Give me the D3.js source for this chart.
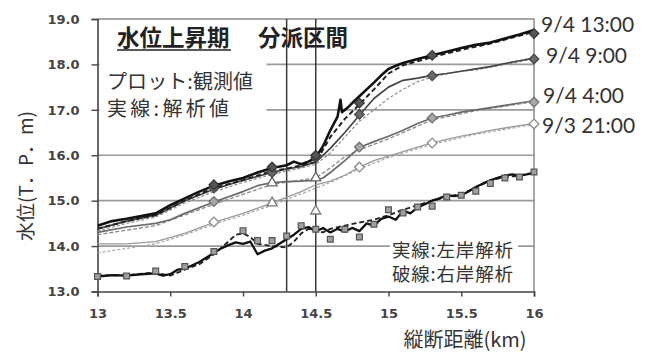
<!DOCTYPE html>
<html>
<head>
<meta charset="utf-8">
<script src="https://cdn.jsdelivr.net/npm/d3@7"></script>
<style>
  html, body { margin: 0; padding: 0; background: #fff; }
  svg { display: block; }
</style>
</head>
<body>
<svg id="chart" width="649" height="352"></svg>
<script>
// ---- axis ticks ----
const xTicks = [13, 13.5, 14, 14.5, 15, 15.5, 16];
const yTicks = [13, 14, 15, 16, 17, 18, 19];
const yGrid = [14, 15, 16, 17, 18];
const branchKm = [14.3, 14.5];

// ---- analysed water surface profiles [km, T.P.m] (L = left bank, R = right bank) ----
const prof1300L = [[13.0,14.45],[13.1,14.55],[13.2,14.6],[13.3,14.66],[13.4,14.72],[13.5,14.9],[13.6,15.05],[13.7,15.2],[13.8,15.33],[13.9,15.42],[14.0,15.5],[14.1,15.62],[14.2,15.72],[14.3,15.78],[14.35,15.86],[14.4,15.8],[14.45,15.86],[14.5,15.95],[14.55,16.2],[14.6,16.55],[14.65,16.85],[14.67,17.22],[14.68,16.95],[14.72,17.05],[14.76,17.18],[14.8,17.3],[14.85,17.45],[14.9,17.6],[14.95,17.76],[15.0,17.9],[15.05,17.97],[15.1,18.03],[15.2,18.12],[15.3,18.2],[15.4,18.28],[15.5,18.36],[15.6,18.43],[15.7,18.48],[15.8,18.57],[15.9,18.66],[16.0,18.76]];
const prof1300R = [[13.0,14.38],[13.2,14.55],[13.4,14.68],[13.6,15.0],[13.8,15.28],[14.0,15.45],[14.2,15.66],[14.3,15.7],[14.4,15.78],[14.5,15.85],[14.6,16.4],[14.7,16.8],[14.8,17.12],[14.9,17.45],[15.0,17.8],[15.1,17.98],[15.3,18.16],[15.5,18.32],[15.7,18.46],[16.0,18.72]];
const prof0900L = [[13.0,14.38],[13.2,14.55],[13.4,14.68],[13.6,15.0],[13.8,15.25],[14.0,15.45],[14.2,15.62],[14.3,15.7],[14.4,15.75],[14.5,15.85],[14.6,16.15],[14.7,16.5],[14.8,16.88],[14.9,17.25],[15.0,17.5],[15.1,17.65],[15.2,17.7],[15.3,17.76],[15.4,17.8],[15.5,17.85],[15.6,17.9],[15.7,17.95],[15.8,18.02],[15.9,18.08],[16.0,18.14]];
const prof0900R = [[13.0,14.33],[13.2,14.5],[13.4,14.64],[13.6,14.95],[13.8,15.2],[14.0,15.4],[14.2,15.58],[14.4,15.72],[14.5,15.8],[14.6,16.05],[14.7,16.4],[14.8,16.75],[14.9,17.0],[15.0,17.25],[15.1,17.45],[15.2,17.62],[15.3,17.72],[15.45,17.83],[15.6,17.88],[15.8,18.0],[16.0,18.12]];
const prof0400L = [[13.0,14.3],[13.2,14.42],[13.4,14.5],[13.5,14.58],[13.6,14.72],[13.8,14.97],[14.0,15.2],[14.1,15.33],[14.2,15.4],[14.3,15.42],[14.4,15.43],[14.5,15.45],[14.55,15.5],[14.6,15.62],[14.7,15.88],[14.8,16.17],[14.9,16.3],[15.0,16.42],[15.1,16.55],[15.2,16.7],[15.3,16.82],[15.4,16.88],[15.5,16.95],[15.6,17.0],[15.7,17.05],[15.8,17.1],[15.9,17.15],[16.0,17.2]];
const prof0400R = [[13.0,14.25],[13.4,14.45],[13.8,14.92],[14.2,15.36],[14.5,15.5],[14.6,15.72],[14.7,15.97],[14.8,16.12],[15.0,16.36],[15.3,16.78],[15.6,16.98],[16.0,17.18]];
const prof2100L = [[13.0,14.05],[13.2,14.05],[13.4,14.1],[13.6,14.28],[13.8,14.52],[14.0,14.72],[14.2,14.95],[14.4,15.2],[14.5,15.35],[14.6,15.43],[14.7,15.56],[14.8,15.74],[14.9,15.88],[15.0,15.98],[15.1,16.08],[15.2,16.18],[15.3,16.27],[15.4,16.35],[15.5,16.42],[15.6,16.48],[15.7,16.55],[15.8,16.6],[15.9,16.65],[16.0,16.7]];
const prof2100R = [[13.0,13.85],[13.2,13.95],[13.4,14.05],[13.6,14.25],[13.8,14.48],[14.0,14.68],[14.2,14.9],[14.4,15.15],[14.6,15.4],[14.8,15.7],[15.0,15.95],[15.3,16.24],[15.6,16.46],[16.0,16.68]];
const profLowL = [[13.0,13.33],[13.1,13.36],[13.2,13.35],[13.3,13.38],[13.4,13.4],[13.45,13.35],[13.5,13.38],[13.55,13.48],[13.6,13.5],[13.7,13.65],[13.8,13.85],[13.85,13.95],[13.9,14.02],[13.95,14.08],[14.0,14.05],[14.05,14.1],[14.1,13.82],[14.15,13.9],[14.2,13.95],[14.25,14.05],[14.3,14.15],[14.35,14.25],[14.4,14.38],[14.45,14.42],[14.5,14.32],[14.55,14.4],[14.6,14.3],[14.65,14.38],[14.7,14.32],[14.75,14.4],[14.8,14.33],[14.85,14.5],[14.9,14.45],[14.95,14.6],[15.0,14.65],[15.05,14.58],[15.1,14.78],[15.15,14.72],[15.2,14.85],[15.25,14.92],[15.3,15.0],[15.35,15.05],[15.4,15.12],[15.45,15.1],[15.5,15.12],[15.55,15.2],[15.6,15.3],[15.65,15.38],[15.7,15.45],[15.75,15.5],[15.8,15.55],[15.85,15.58],[15.9,15.55],[15.95,15.58],[16.0,15.62]];
const profLowR = [[13.0,13.35],[13.2,13.36],[13.4,13.42],[13.45,13.38],[13.5,13.35],[13.6,13.48],[13.7,13.6],[13.8,13.82],[13.9,14.1],[13.95,14.25],[14.0,14.28],[14.05,14.2],[14.1,14.05],[14.2,14.0],[14.3,13.97],[14.35,14.1],[14.4,14.28],[14.45,14.38],[14.5,14.35],[14.55,14.3],[14.6,14.38],[14.7,14.45],[14.8,14.52],[14.9,14.58],[15.0,14.68],[15.1,14.8],[15.2,14.9],[15.3,15.0],[15.4,15.08],[15.5,15.15],[15.6,15.28],[15.7,15.45],[15.8,15.52],[15.9,15.55],[16.0,15.6]];

// ---- observed water levels ----
const obsKm = [13.8, 14.2, 14.5, 14.8, 15.3, 16.0];
const obs1300 = [15.35, 15.74, 16.0, 17.15, 18.2, 18.68];
const obs0900 = [15.28, 15.62, 15.95, 16.9, 17.75, 18.12];
const obsKmB = [13.8, 14.8, 15.3, 16.0];
const obs0400 = [14.98, 16.18, 16.82, 17.17];
const obs2100 = [14.53, 15.74, 16.27, 16.69];
const triKm = [14.2, 14.5];
const tri0400 = [15.39, 15.5];
const tri2100 = [14.95, 14.77];
const sqKm = [13.0,13.2,13.4,13.6,13.8,14.0,14.1,14.2,14.3,14.4,14.5,14.6,14.7,14.8,14.9,15.0,15.1,15.2,15.3,15.4,15.5,15.6,15.7,15.8,15.9,16.0];
const sqVal = [13.33,13.34,13.45,13.55,13.88,14.34,14.12,14.12,14.22,14.45,14.37,14.15,14.37,14.2,14.48,14.8,14.73,14.86,14.88,15.08,15.12,15.21,15.38,15.5,15.52,15.63];

// ---- labels ----
const timeLabels = ["9/4 13:00", "9/4 9:00", "9/4 4:00", "9/3 21:00"];
const titleText = "水位上昇期";
const branchText = "分派区間";
const noteLines = ["プロット:観測値", "実線:解析値"];
const bankLines = ["実線:左岸解析", "破線:右岸解析"];
const xTitle = "縦断距離(km)";
const yTitle = "水位(T．P．m)";

const svg = d3.select("#chart");
const pLeft = 97.5, pRight = 534, pTop = 19, pBottom = 291.5;
const x = d3.scaleLinear().domain([13, 16]).range([pLeft, pRight]);
const y = d3.scaleLinear().domain([13, 19]).range([pBottom, pTop]);

svg.append("rect").attr("width", 649).attr("height", 352).attr("fill", "#fff");

svg.append("defs").append("clipPath").attr("id", "plotClip")
  .append("rect").attr("x", pLeft).attr("y", pTop - 4).attr("width", pRight - pLeft + 6).attr("height", pBottom - pTop + 4);

// horizontal grid
svg.append("g").selectAll("line").data(yGrid).join("line")
  .attr("x1", pLeft).attr("x2", pRight)
  .attr("y1", d => y(d)).attr("y2", d => y(d))
  .attr("stroke", "#9a9a9a").attr("stroke-width", 1.6);

// plot frame (top and right)
svg.append("path")
  .attr("d", `M${pLeft},${y(19)}H${pRight}V${pBottom}`)
  .attr("fill", "none").attr("stroke", "#8a8a8a").attr("stroke-width", 1.5);

// white boxes behind annotations
svg.append("rect").attr("x", pLeft + 2).attr("y", pTop + 2).attr("width", 167).attr("height", 108).attr("fill", "#fff");
svg.append("rect").attr("x", 390).attr("y", 236).attr("width", 128).attr("height", 52).attr("fill", "#fff");

// branch section boundaries
svg.append("g").selectAll("line").data(branchKm).join("line")
  .attr("x1", d => x(d)).attr("x2", d => x(d))
  .attr("y1", pTop).attr("y2", pBottom)
  .attr("stroke", "#3a3a3a").attr("stroke-width", 1.5);

// axes
const yAxis = svg.append("g").attr("transform", `translate(${pLeft},0)`)
  .call(d3.axisLeft(y).tickValues(yTicks).tickFormat(d3.format(".1f")).tickSize(6).tickPadding(12));
const xAxis = svg.append("g").attr("transform", `translate(0,${pBottom})`)
  .call(d3.axisBottom(x).tickValues(xTicks).tickFormat(d => String(d)).tickSize(5).tickPadding(12));
[yAxis, xAxis].forEach(a => {
  a.selectAll(".domain").attr("stroke", "#444").attr("stroke-width", 1.6);
  a.selectAll(".tick line").attr("stroke", "#444").attr("stroke-width", 1.4);
  a.selectAll("text").attr("font-family", "DejaVu Sans").attr("font-weight", "bold")
    .attr("font-size", "13px").attr("fill", "#444");
});

// profile lines
const line = d3.line().x(d => x(d[0])).y(d => y(d[1]));
const g = svg.append("g").attr("clip-path", "url(#plotClip)");
const profiles = [
  { data: prof2100R, stroke: "#aaa", w: 1.3, dash: "3,2" },
  { data: prof2100L, stroke: "#9a9a9a", w: 1.3 },
  { data: prof0400R, stroke: "#8a8a8a", w: 1.3, dash: "4,2" },
  { data: prof0400L, stroke: "#6a6a6a", w: 1.7 },
  { data: prof0900R, stroke: "#8c8c8c", w: 1.2, dash: "3,2" },
  { data: prof0900L, stroke: "#444", w: 1.7 },
  { data: prof1300R, stroke: "#222", w: 2.0, dash: "5,3" },
  { data: prof1300L, stroke: "#111", w: 2.6 },
  { data: profLowR, stroke: "#222", w: 1.9, dash: "5,3" },
  { data: profLowL, stroke: "#111", w: 2.3 }
];
g.selectAll("path.prof").data(profiles).join("path").attr("class", "prof")
  .attr("d", d => line(d.data))
  .attr("fill", "none").attr("stroke", d => d.stroke).attr("stroke-width", d => d.w)
  .attr("stroke-dasharray", d => d.dash || null).attr("stroke-linejoin", "round");

// markers
const diamond = d3.symbol().type(d3.symbolDiamond2).size(60);
const square = d3.symbol().type(d3.symbolSquare).size(34);
const triangle = d3.symbol().type(d3.symbolTriangle2).size(72);
function markers(kms, vals, sym, fill, stroke, sw) {
  svg.append("g").selectAll("path").data(kms.map((k, i) => [k, vals[i]])).join("path")
    .attr("transform", d => `translate(${x(d[0])},${y(d[1])})`)
    .attr("d", sym).attr("fill", fill).attr("stroke", stroke).attr("stroke-width", sw);
}
markers(obsKmB, obs2100, diamond, "#fff", "#8a8a8a", 1.3);
markers(triKm, tri2100, triangle, "#fff", "#7a7a7a", 1.3);
markers(obsKmB, obs0400, diamond, "#a8a8a8", "#707070", 1.3);
markers(triKm, tri0400, triangle, "#fff", "#6a6a6a", 1.3);
markers(obsKm, obs0900, diamond, "#6a6a6a", "#444", 1.2);
markers(obsKm, obs1300, diamond, "#555", "#333", 1.2);
markers(sqKm, sqVal, square, "#a0a0a0", "#555", 1.2);

// time labels at the downstream end
const labelY = [32, 63, 103, 133];
const labelX = [541, 546, 543, 542];
svg.append("g").selectAll("text").data(timeLabels).join("text")
  .attr("x", (d, i) => labelX[i]).attr("y", (d, i) => labelY[i])
  .attr("font-family", "Lato").attr("font-size", "21px").attr("fill", "#333")
  .text(d => d);

const jp = "Noto Sans CJK JP";
// headings
svg.append("text").attr("x", 117).attr("y", 46).attr("font-family", jp).attr("font-weight", "bold")
  .attr("font-size", "22.5px").attr("fill", "#222").text(titleText);
svg.append("line").attr("x1", 117).attr("x2", 231).attr("y1", 50).attr("y2", 50)
  .attr("stroke", "#222").attr("stroke-width", 1.6);
svg.append("text").attr("x", 258).attr("y", 46).attr("font-family", jp).attr("font-weight", "bold")
  .attr("font-size", "22.5px").attr("fill", "#222").text(branchText);

// notes
const noteWidths = [146, 122];
svg.append("g").selectAll("text").data(noteLines).join("text")
  .attr("x", 107).attr("y", (d, i) => 89 + i * 27)
  .attr("textLength", (d, i) => noteWidths[i]).attr("lengthAdjust", "spacing")
  .attr("font-family", jp).attr("font-size", "20px").attr("fill", "#333").text(d => d);
svg.append("g").selectAll("text").data(bankLines).join("text")
  .attr("x", 392).attr("y", (d, i) => 257 + i * 24)
  .attr("textLength", 121).attr("lengthAdjust", "spacing")
  .attr("font-family", jp).attr("font-size", "18.5px").attr("fill", "#333").text(d => d);

// axis titles
svg.append("text").attr("x", 465).attr("y", 347).attr("text-anchor", "middle")
  .attr("font-family", jp).attr("font-size", "20px").attr("fill", "#333").text(xTitle);
svg.append("text").attr("transform", "translate(33,176) rotate(-90)").attr("text-anchor", "middle")
  .attr("font-family", jp).attr("font-size", "19px").attr("fill", "#333").text(yTitle);
</script>
</body>
</html>
